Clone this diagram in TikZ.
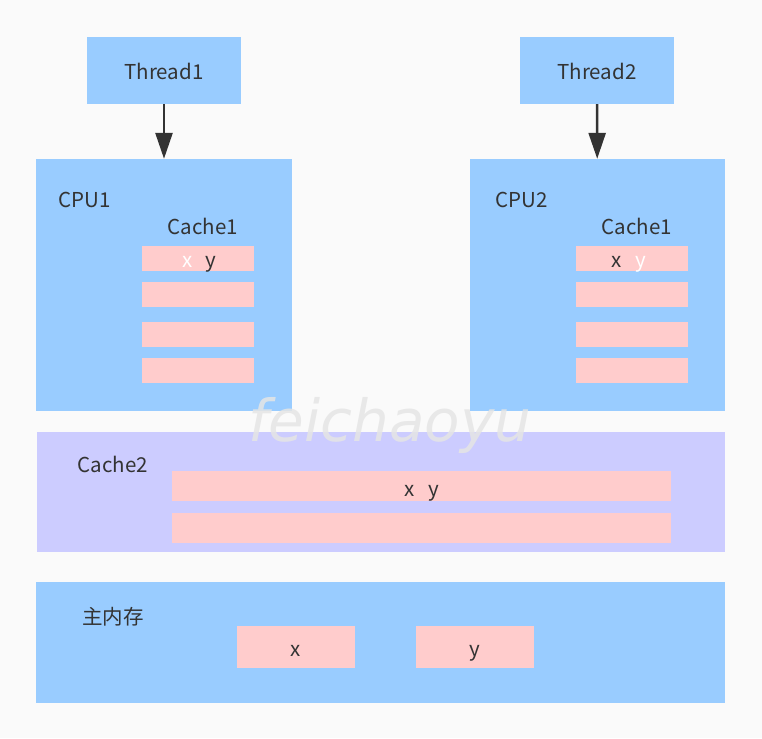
\documentclass[tikz,border=0pt]{standalone}
\usepackage{fontspec}
\setmainfont{Noto Sans CJK SC}
\newfontfamily\wmfont{DejaVu Sans}
\usetikzlibrary{arrows.meta}
\definecolor{bg}{HTML}{FAFAFA}
\definecolor{blue}{HTML}{99CCFF}
\definecolor{lilac}{HTML}{CCCCFF}
\definecolor{pink}{HTML}{FFCCCC}
\definecolor{ink}{HTML}{333333}
\tikzset{
  box/.style={fill=blue,draw=none,inner sep=0pt},
  line/.style={fill=pink,draw=none,inner sep=0pt,minimum height=25pt,minimum width=112pt},
  lbl/.style={text=ink,font=\fontsize{20.5}{24}\selectfont},
  arrow/.style={draw=ink,line width=2.6pt,-{Triangle[length=26pt,width=17pt]}}
}
\begin{document}
\begin{tikzpicture}[x=1pt,y=-1pt]
\fill[bg] (0,0) rectangle (762,738);
\useasboundingbox (0,0) rectangle (762,738);
% threads
\node[box,minimum width=154pt,minimum height=67pt] at (164,70.5) (t1) {};
\node[box,minimum width=154pt,minimum height=67pt] at (597,70.5) (t2) {};
\node[lbl] at (164,71) {Thread1};
\node[lbl] at (597,71) {Thread2};
% cpus
\node[box,minimum width=256pt,minimum height=252pt] at (164,285) (cpu1) {};
\node[box,minimum width=255pt,minimum height=252pt] at (597.5,285) (cpu2) {};
\node[lbl] at (85,200) {CPU1};
\node[lbl] at (203,226) {Cache1};
\node[lbl] at (522,200) {CPU2};
\node[lbl] at (637,226) {Cache1};
\foreach \y [count=\i] in {258.5,294.5,334.5,370.5} {
  \node[line] at (198,\y) (c1l\i) {};
  \node[line] at (631.5,\y) (c2l\i) {};
}
\node[lbl,text=white,anchor=base] at (188,267) {x};
\node[lbl,anchor=base] at (211,267) {y};
\node[lbl,anchor=base] at (617,267) {x};
\node[lbl,text=white,anchor=base] at (641,267) {y};
\draw[arrow] (t1) -- (cpu1);
\draw[arrow] (t2) -- (cpu2);
% cache2
\node[box,fill=lilac,minimum width=688pt,minimum height=120pt] at (381,492) (cache2) {};
\node[lbl] at (113,464) {Cache2};
\node[line,minimum width=499pt,minimum height=30pt] at (421.5,486) (l1) {};
\node[line,minimum width=499pt,minimum height=30pt] at (421.5,528) (l2) {};
\node[lbl,anchor=base] at (410,496) {x};
\node[lbl,anchor=base] at (434,496) {y};
% memory
\node[box,minimum width=689pt,minimum height=121pt] at (380.5,642.5) (mem) {};
\node[lbl] at (113,617) {主内存};
\node[line,minimum width=118pt,minimum height=42pt] at (296,647) (mx) {};
\node[line,minimum width=118pt,minimum height=42pt] at (475,647) (my) {};
\node[lbl,anchor=base] at (296,656) {x};
\node[lbl,anchor=base] at (475,656) {y};
% watermark
\node[text=black!10,opacity=0.85,font=\wmfont\itshape\fontsize{58}{60}\selectfont] at (390,425) (wm) {feichaoyu};
\end{tikzpicture}
\end{document}
